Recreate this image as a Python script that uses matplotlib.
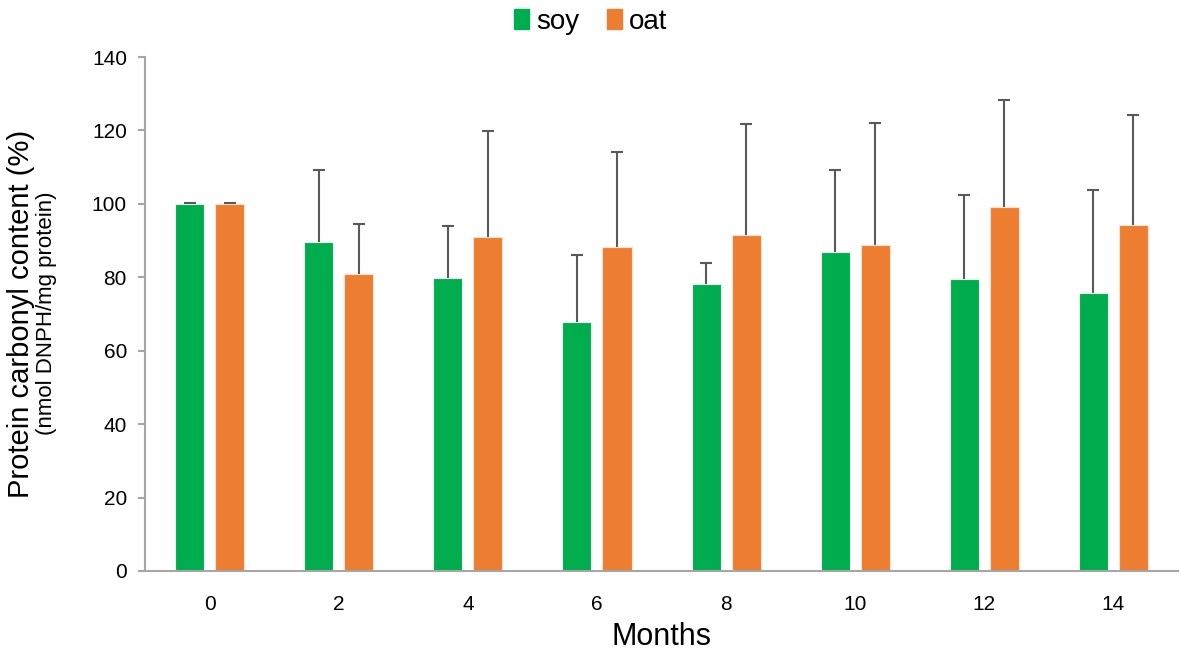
import numpy as np
import matplotlib.pyplot as plt
from matplotlib.patches import Patch

months = ['0', '2', '4', '6', '8', '10', '12', '14']
soy = [100, 89.5, 79.7, 67.7, 78.2, 86.8, 79.4, 75.8]
soy_err = [0.2, 19.8, 14.4, 18.3, 5.7, 22.5, 22.9, 28.1]
oat = [100, 81.0, 91.0, 88.3, 91.5, 88.7, 99.2, 94.2]
oat_err = [0.2, 13.6, 28.8, 25.8, 30.2, 33.3, 29.1, 30.0]

plt.rcParams['font.family'] = ['Liberation Sans Narrow', 'Liberation Sans', 'DejaVu Sans']

green = '#00AD4E'
orange = '#ED7D31'
grey = '#A6A6A6'

fig = plt.figure(figsize=(11.81, 6.53), dpi=100)
ax = fig.add_axes([0.1228, 0.1256, 0.8747, 0.7871])

x = np.arange(len(months))
w = 0.225
off = 0.155
ekw = dict(ecolor='#595959', elinewidth=1.5, capsize=4, capthick=1.5)
b1 = ax.bar(x - off, soy, w, color=green, edgecolor='#E8F5EC', linewidth=0.8,
            yerr=[np.zeros(len(soy)), soy_err], error_kw=ekw)
b2 = ax.bar(x + off, oat, w, color=orange, edgecolor='#FBE3D3', linewidth=0.8,
            yerr=[np.zeros(len(oat)), oat_err], error_kw=ekw)
# hide the lower caps, only the upper whisker is shown
for b in (b1, b2):
    b.errorbar.lines[1][0].set_visible(False)

ax.set_xlim(-0.5, len(months) - 0.5)
ax.set_ylim(0, 140)
ax.set_yticks(range(0, 141, 20))
ax.set_xticks(x)
ax.set_xticklabels(months)
ax.tick_params(axis='y', labelsize=15, length=5, color=grey, width=1.5, pad=8)
ax.tick_params(axis='x', labelsize=15, length=0, pad=17)

for s in ['top', 'right']:
    ax.spines[s].set_visible(False)
for s in ['left', 'bottom']:
    ax.spines[s].set_color(grey)
    ax.spines[s].set_linewidth(1.5)

ax.set_xlabel('Months', fontsize=22, labelpad=6)

fig.text(0.018, 0.52, 'Protein carbonyl content (%)', rotation=90,
         fontsize=21, ha='center', va='center')
fig.text(0.039, 0.52, '(nmol DNPH/mg protein)', rotation=90,
         fontsize=16, ha='center', va='center')

handles = [Patch(color=green, label='soy'), Patch(color=orange, label='oat')]
fig.legend(handles=handles, loc='upper center', bbox_to_anchor=(0.5, 1.025),
           ncol=2, frameon=False, fontsize=20, handlelength=0.55,
           handleheight=0.75, handletextpad=0.25, columnspacing=1.0)

fig.savefig('out.png', dpi=100)
